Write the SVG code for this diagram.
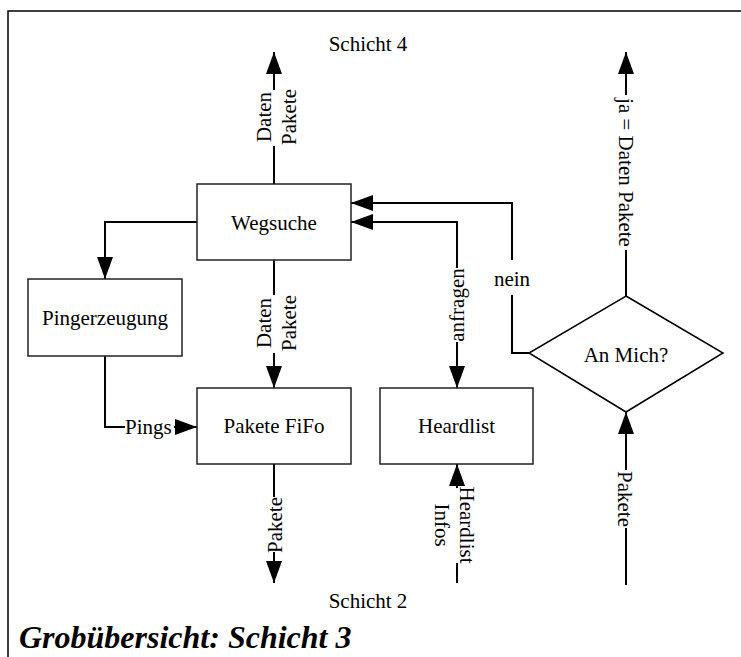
<svg xmlns="http://www.w3.org/2000/svg" width="741" height="657" viewBox="0 0 741 657">
  <style>
    text { font-family: "Liberation Serif", "Times New Roman", serif; font-size: 21px; fill: #000; }
    .mid { text-anchor: middle; }
    .box { fill: #fff; stroke: #222; stroke-width: 1.5; }
    .wire { fill: none; stroke: #000; stroke-width: 2; }
    .title { font-weight: bold; font-style: italic; font-size: 32px; }
  </style>
  <defs>
    <marker id="arrow" markerUnits="userSpaceOnUse" markerWidth="22" markerHeight="16" refX="22" refY="8" orient="auto">
      <path d="M0,0 L22,8 L0,16 Z" fill="#000"/>
    </marker>
  </defs>

  <!-- frame -->
  <path d="M741,11 H8 V657" fill="none" stroke="#000" stroke-width="1.5"/>

  <text class="mid" x="368" y="51">Schicht 4</text>
  <text class="mid" x="368" y="608">Schicht 2</text>

  <!-- connectors -->
  <g id="connectors">
    <!-- Wegsuche up to layer 4 -->
    <path class="wire" d="M274,184 V146"/>
    <path class="wire" d="M274,90 V52" marker-end="url(#arrow)"/>
    <!-- Wegsuche to Pingerzeugung -->
    <path class="wire" d="M197,222 H105 V279" marker-end="url(#arrow)"/>
    <!-- Wegsuche to Pakete FiFo -->
    <path class="wire" d="M274,260 V295"/>
    <path class="wire" d="M274,353 V388" marker-end="url(#arrow)"/>
    <!-- Pingerzeugung to Pakete FiFo -->
    <path class="wire" d="M105,356 V427 H125"/>
    <path class="wire" d="M174,427 H197" marker-end="url(#arrow)"/>
    <!-- Pakete FiFo down to layer 2 -->
    <path class="wire" d="M274,464 V497"/>
    <path class="wire" d="M274,552 V583" marker-end="url(#arrow)"/>
    <!-- Wegsuche <-> Heardlist -->
    <path class="wire" d="M457,268 V222 H351" marker-end="url(#arrow)"/>
    <path class="wire" d="M457,342 V388" marker-end="url(#arrow)"/>
    <!-- layer 2 infos into Heardlist -->
    <path class="wire" d="M457,583 V563"/>
    <path class="wire" d="M457,488 V464" marker-end="url(#arrow)"/>
    <!-- decision: nein back to Wegsuche -->
    <path class="wire" d="M529,353 H512 V295"/>
    <path class="wire" d="M512,260 V203 H351" marker-end="url(#arrow)"/>
    <!-- decision: ja up to layer 4 -->
    <path class="wire" d="M626,296 V250"/>
    <path class="wire" d="M626,95 V52" marker-end="url(#arrow)"/>
    <!-- packets from layer 2 into decision -->
    <path class="wire" d="M626,585 V528"/>
    <path class="wire" d="M626,470 V412" marker-end="url(#arrow)"/>

    <!-- connector labels -->
    <text transform="translate(274,117) rotate(-90)" class="mid"><tspan x="0" y="-3">Daten</tspan><tspan x="0" y="22">Pakete</tspan></text>
    <text transform="translate(274,323) rotate(-90)" class="mid"><tspan x="0" y="-3">Daten</tspan><tspan x="0" y="22">Pakete</tspan></text>
    <text transform="translate(274,525) rotate(-90)" class="mid" y="8">Pakete</text>
    <text transform="translate(457,305) rotate(-90)" class="mid" y="7">anfragen</text>
    <text transform="translate(457,525) rotate(90)" class="mid"><tspan x="0" y="-3">Heardlist</tspan><tspan x="0" y="22">Infos</tspan></text>
    <text transform="translate(626,172.5) rotate(90)" class="mid" y="7">ja = Daten Pakete</text>
    <text transform="translate(626,499) rotate(90)" class="mid" y="8">Pakete</text>
    <text class="mid" x="512" y="286">nein</text>
    <text x="125" y="434">Pings</text>
  </g>

  <g id="wegsuche">
    <rect class="box" x="197" y="184" width="154" height="76"/>
    <text class="mid" x="274" y="230">Wegsuche</text>
  </g>
  <g id="pingerzeugung">
    <rect class="box" x="28" y="279" width="154" height="77"/>
    <text class="mid" x="105" y="325">Pingerzeugung</text>
  </g>
  <g id="pakete-fifo">
    <rect class="box" x="197" y="388" width="154" height="76"/>
    <text class="mid" x="274" y="433">Pakete FiFo</text>
  </g>
  <g id="heardlist">
    <rect class="box" x="380" y="388" width="153" height="76"/>
    <text class="mid" x="456.5" y="433">Heardlist</text>
  </g>
  <g id="an-mich">
    <path d="M626,296 L723,353 L626,412 L529,353 Z" fill="#fff" stroke="#000" stroke-width="1.5"/>
    <text class="mid" x="626" y="362">An Mich?</text>
  </g>

  <text class="title" x="19" y="648">Grobübersicht: Schicht 3</text>
</svg>
